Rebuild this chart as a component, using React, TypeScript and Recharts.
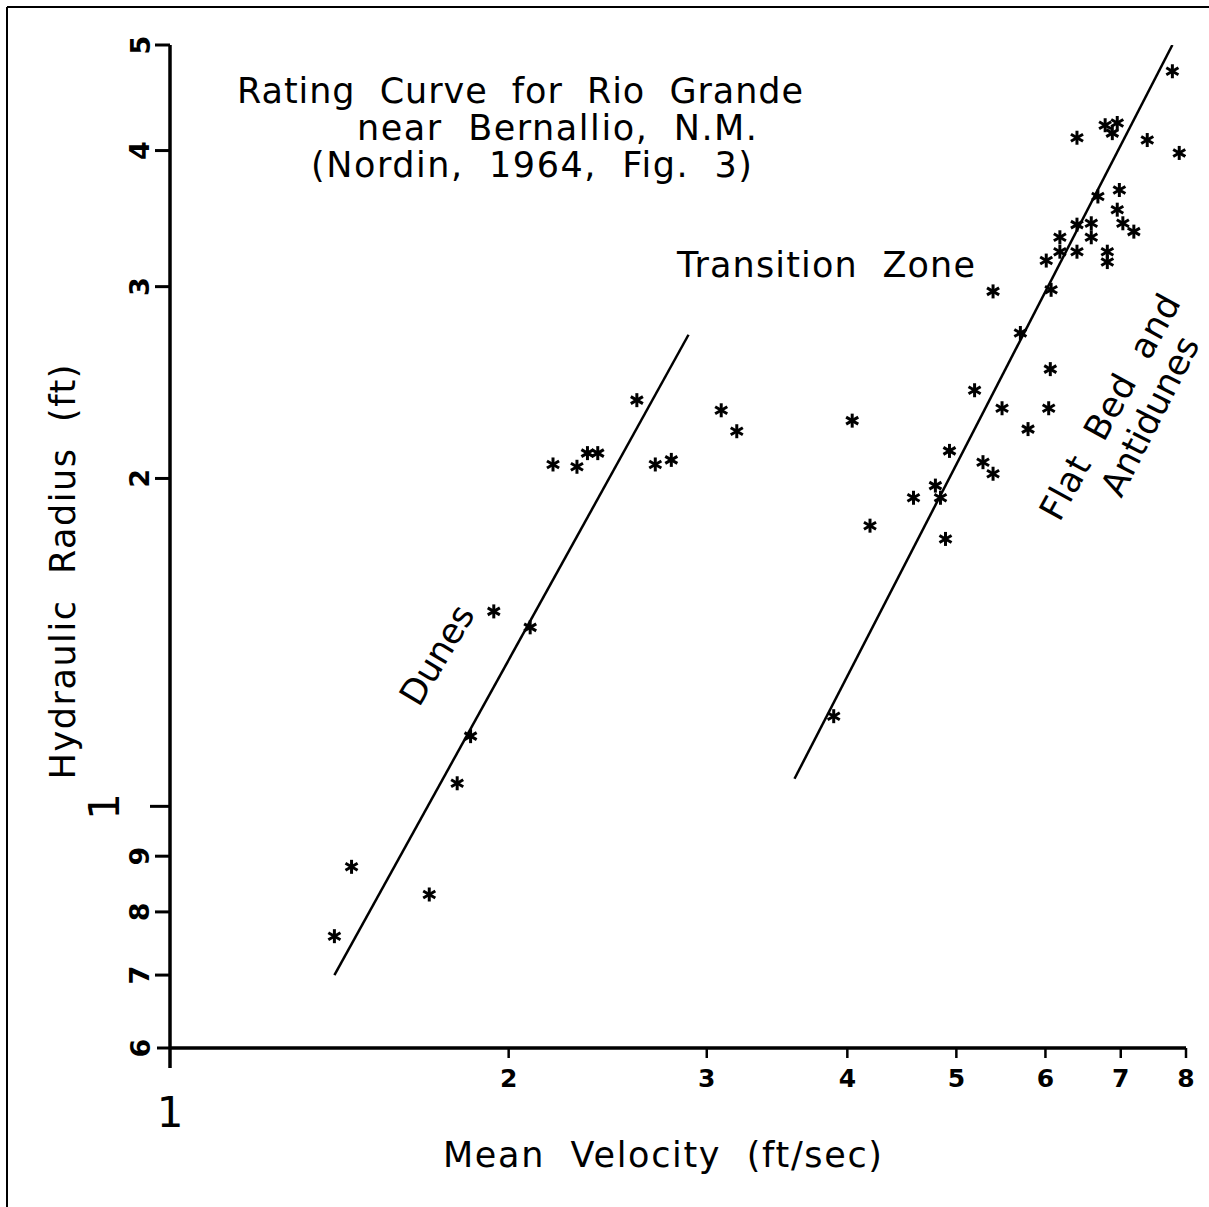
import React from 'react'
import { ScatterChart, Scatter, XAxis, YAxis } from 'recharts'

// axis ticks (log scales)
const xTicks = [1, 2, 3, 4, 5, 6, 7, 8]
const yTicks = [0.6, 0.7, 0.8, 0.9, 1, 2, 3, 4, 5]
const yTickLabels = ['6', '7', '8', '9', '1', '2', '3', '4', '5']

// observations, dune regime (ft/sec, ft)
const dunesVelocity = [1.40, 1.45, 1.70, 1.80, 1.85, 1.94, 2.09, 2.19, 2.30, 2.35, 2.40, 2.60, 2.70, 2.79, 3.09, 3.19]
const dunesRadius = [0.76, 0.88, 0.83, 1.05, 1.16, 1.51, 1.46, 2.06, 2.05, 2.11, 2.11, 2.36, 2.06, 2.08, 2.31, 2.21]

// observations, transition and flat bed / antidunes
const flatVelocity = [
  3.89, 4.04, 4.19, 4.58, 4.79, 4.84, 4.89, 4.93, 5.19, 5.28, 5.39, 5.39, 5.49, 5.70, 5.79,
  6.04, 6.06, 6.07, 6.01, 6.18, 6.18, 6.40, 6.40, 6.59, 6.59, 6.81, 6.81, 6.68, 6.98, 6.95,
  7.03, 7.19, 6.40, 6.78, 6.95, 6.88, 7.39, 7.89, 7.78,
]
const flatRadius = [
  1.21, 2.26, 1.81, 1.92, 1.97, 1.92, 1.76, 2.12, 2.41, 2.07, 2.02, 2.97, 2.32, 2.72, 2.22,
  2.32, 2.52, 2.98, 3.17, 3.33, 3.23, 3.23, 3.42, 3.43, 3.33, 3.23, 3.16, 3.63, 3.68, 3.53,
  3.43, 3.37, 4.11, 4.22, 4.24, 4.15, 4.09, 3.98, 4.73,
]

// fitted lines
const dunesLineVelocity = [1.4, 2.89]
const dunesLineRadius = [0.7, 2.71]
const flatLineVelocity = [3.59, 7.78]
const flatLineRadius = [1.06, 5.0]

const zip = (v: number[], r: number[]) => v.map((x, i) => ({ v: x, r: r[i] }))

const dunesData = zip(dunesVelocity, dunesRadius)
const flatData = zip(flatVelocity, flatRadius)
const dunesLine = zip(dunesLineVelocity, dunesLineRadius)
const flatLine = zip(flatLineVelocity, flatLineRadius)

const FONT = '"DejaVu Sans", sans-serif'

function Star(props: any) {
  const { cx, cy } = props
  if (cx == null || cy == null) return <g />
  const r = 7
  const dx = r * 0.866
  const dy = r * 0.5
  return (
    <g stroke="#000" strokeWidth={3} strokeLinecap="butt">
      <line x1={cx} y1={cy - r} x2={cx} y2={cy + r} />
      <line x1={cx - dx} y1={cy - dy} x2={cx + dx} y2={cy + dy} />
      <line x1={cx - dx} y1={cy + dy} x2={cx + dx} y2={cy - dy} />
    </g>
  )
}

const NoDot = () => <g />

function XTick(props: any) {
  const { x, y, payload } = props
  if (payload.value === 1) {
    return (
      <g>
        <line x1={x} y1={y} x2={x} y2={y + 20} stroke="#000" strokeWidth={3.5} />
        <text x={x} y={y + 64} textAnchor="middle" dominantBaseline="central"
          fontFamily={FONT} fontSize={42} fill="#000">1</text>
      </g>
    )
  }
  return (
    <g>
      <line x1={x} y1={y} x2={x} y2={y + 10} stroke="#000" strokeWidth={2.5} />
      <text x={x} y={y + 30} textAnchor="middle" dominantBaseline="central"
        fontFamily={FONT} fontSize={25} fontWeight="bold" fill="#000">{payload.value}</text>
    </g>
  )
}

function YTick(props: any) {
  const { x, y, payload } = props
  const idx = yTicks.indexOf(payload.value)
  const label = yTickLabels[idx]
  if (payload.value === 1) {
    const tx = x - 65
    return (
      <g>
        <line x1={x - 20} y1={y} x2={x} y2={y} stroke="#000" strokeWidth={3} />
        <text x={tx} y={y} transform={`rotate(-90 ${tx} ${y})`} textAnchor="middle"
          dominantBaseline="central" fontFamily={FONT} fontSize={42} fill="#000">{label}</text>
      </g>
    )
  }
  const len = payload.value === 0.6 ? 13 : 15
  const tx = x - 30
  return (
    <g>
      <line x1={x - len} y1={y} x2={x} y2={y} stroke="#000" strokeWidth={3} />
      <text x={tx} y={y} transform={`rotate(-90 ${tx} ${y})`} textAnchor="middle"
        dominantBaseline="central" fontFamily={FONT} fontSize={27} fontWeight="bold" fill="#000">{label}</text>
    </g>
  )
}

export default function App() {
  const W = 1209
  const H = 1207
  const pre = { whiteSpace: 'pre' } as React.CSSProperties
  return (
    <div style={{ position: 'absolute', left: 0, top: 0, width: W, height: H, background: '#fff' }}>
      <ScatterChart width={W} height={H} margin={{ top: 45, right: 23, bottom: 99, left: 90 }}>
        <XAxis type="number" dataKey="v" scale="log" domain={[1, 8]} ticks={xTicks} interval={0}
          allowDataOverflow tickLine={false} tickSize={0} tickMargin={0} height={60}
          axisLine={{ stroke: '#000', strokeWidth: 3.5 }} tick={<XTick />} />
        <YAxis type="number" dataKey="r" scale="log" domain={[0.6, 5]} ticks={yTicks} interval={0}
          allowDataOverflow tickLine={false} tickSize={0} tickMargin={0} width={80}
          axisLine={{ stroke: '#000', strokeWidth: 3.5 }} tick={<YTick />} />
        <Scatter data={dunesLine} fill="#000" shape={<NoDot />} lineType="joint"
          line={{ stroke: '#000', strokeWidth: 2.5 }} isAnimationActive={false} />
        <Scatter data={flatLine} fill="#000" shape={<NoDot />} lineType="joint"
          line={{ stroke: '#000', strokeWidth: 2.5 }} isAnimationActive={false} />
        <Scatter data={dunesData} fill="#000" shape={<Star />} isAnimationActive={false} />
        <Scatter data={flatData} fill="#000" shape={<Star />} isAnimationActive={false} />
      </ScatterChart>
      <svg width={W} height={H} style={{ position: 'absolute', left: 0, top: 0, pointerEvents: 'none' }}>
        {/* frame */}
        <line x1={7} y1={7} x2={W} y2={7} stroke="#000" strokeWidth={2} />
        <line x1={7} y1={7} x2={7} y2={H} stroke="#000" strokeWidth={2} />
        <g fontFamily={FONT} fontSize={35} fill="#000">
          <text x={237} y={103} textLength={566} lengthAdjust="spacing" style={pre}>{'Rating  Curve  for  Rio  Grande'}</text>
          <text x={357} y={140} textLength={400} lengthAdjust="spacing" style={pre}>{'near  Bernallio,  N.M.'}</text>
          <text x={311} y={177} textLength={441} lengthAdjust="spacing" style={pre}>{'(Nordin,  1964,  Fig.  3)'}</text>
          <text x={677} y={277} textLength={298} lengthAdjust="spacing" style={pre}>{'Transition  Zone'}</text>
          <text x={443} y={1167} textLength={439} lengthAdjust="spacing" style={pre}>{'Mean  Velocity  (ft/sec)'}</text>
          <text x={75} y={572} transform="rotate(-90 75 572)" textAnchor="middle"
            textLength={415} lengthAdjust="spacing" style={pre}>{'Hydraulic  Radius  (ft)'}</text>
          <text x={437} y={655} transform="rotate(-59 437 655)" textAnchor="middle"
            dominantBaseline="central" textLength={110} lengthAdjust="spacing">Dunes</text>
          <text x={1110} y={407} transform="rotate(-61 1110 407)" textAnchor="middle"
            dominantBaseline="central" textLength={252} lengthAdjust="spacing" style={pre}>{'Flat  Bed  and'}</text>
          <text x={1150} y={416} transform="rotate(-63 1150 416)" textAnchor="middle"
            dominantBaseline="central" textLength={174} lengthAdjust="spacing">Antidunes</text>
        </g>
      </svg>
    </div>
  )
}
